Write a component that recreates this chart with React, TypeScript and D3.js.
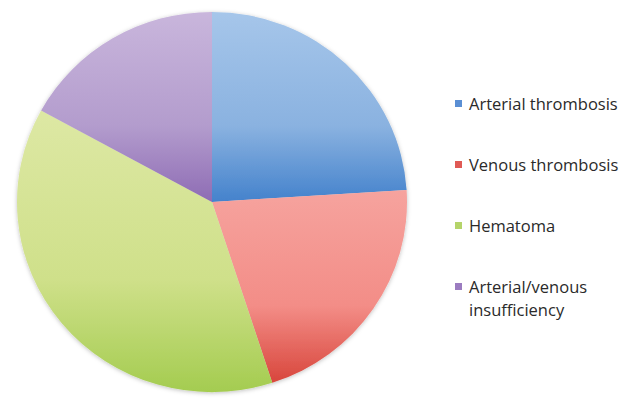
import React from "react";
import * as d3 from "d3";

const categories = ["Arterial thrombosis", "Venous thrombosis", "Hematoma", "Arterial/venous insufficiency"];
const values = [24, 21, 38, 17];
const topColors = ["#a6c6ea", "#f6a39e", "#dde8a4", "#c9b6dc"];
const midColors = ["#8ab2e0", "#f38d87", "#cfe08a", "#b39ccd"];
const bottomColors = ["#4482cc", "#d8463c", "#a4cc50", "#8e6cb4"];
const swatchColors = ["#5a8fd4", "#e05a55", "#b5d46a", "#9b7cc0"];
const legendLines = [["Arterial thrombosis"], ["Venous thrombosis"], ["Hematoma"], ["Arterial/venous", "insufficiency"]];

const App: React.FC = () => {
  const width = 628;
  const height = 401;
  const cx = 212;
  const cy = 202;
  const r = 195;

  const pie = d3.pie<number>().sort(null).value((d) => d);
  const arcs = pie(values);
  const arc = d3.arc<d3.PieArcDatum<number>>().innerRadius(0).outerRadius(r);

  const legendY = d3.scalePoint<string>().domain(categories).range([104, 287]);

  return (
    <svg width={width} height={height} style={{ position: "absolute", left: 0, top: 0, background: "#fff" }}>
      <defs>
        {categories.map((c, i) => (
          <linearGradient key={c} id={`g${i}`} x1="0" y1="0" x2="0" y2="1">
            <stop offset="0%" stopColor={topColors[i]} />
            <stop offset="60%" stopColor={midColors[i]} />
            <stop offset="100%" stopColor={bottomColors[i]} />
          </linearGradient>
        ))}
        <filter id="shadow" x="-10%" y="-10%" width="120%" height="120%">
          <feDropShadow dx="0" dy="1" stdDeviation="2" floodColor="#000" floodOpacity="0.25" />
        </filter>
      </defs>
      <g transform={`translate(${cx},${cy}) scale(1,0.975)`} filter="url(#shadow)">
        {arcs.map((a, i) => (
          <path key={categories[i]} d={arc(a) ?? ""} fill={`url(#g${i})`} />
        ))}
      </g>
      <g fontFamily="'Open Sans', 'Liberation Sans', sans-serif" fontSize={16.5} fill="#2a2a2a">
        {categories.map((c, i) => {
          const y = legendY(c)!;
          return (
            <g key={c}>
              <rect x={455} y={y - 4} width={7} height={7} fill={swatchColors[i]} />
              {legendLines[i].map((line, j) => (
                <text key={line} x={469} y={y + 5.5 + j * 23}>
                  {line}
                </text>
              ))}
            </g>
          );
        })}
      </g>
    </svg>
  );
};

export default App;
